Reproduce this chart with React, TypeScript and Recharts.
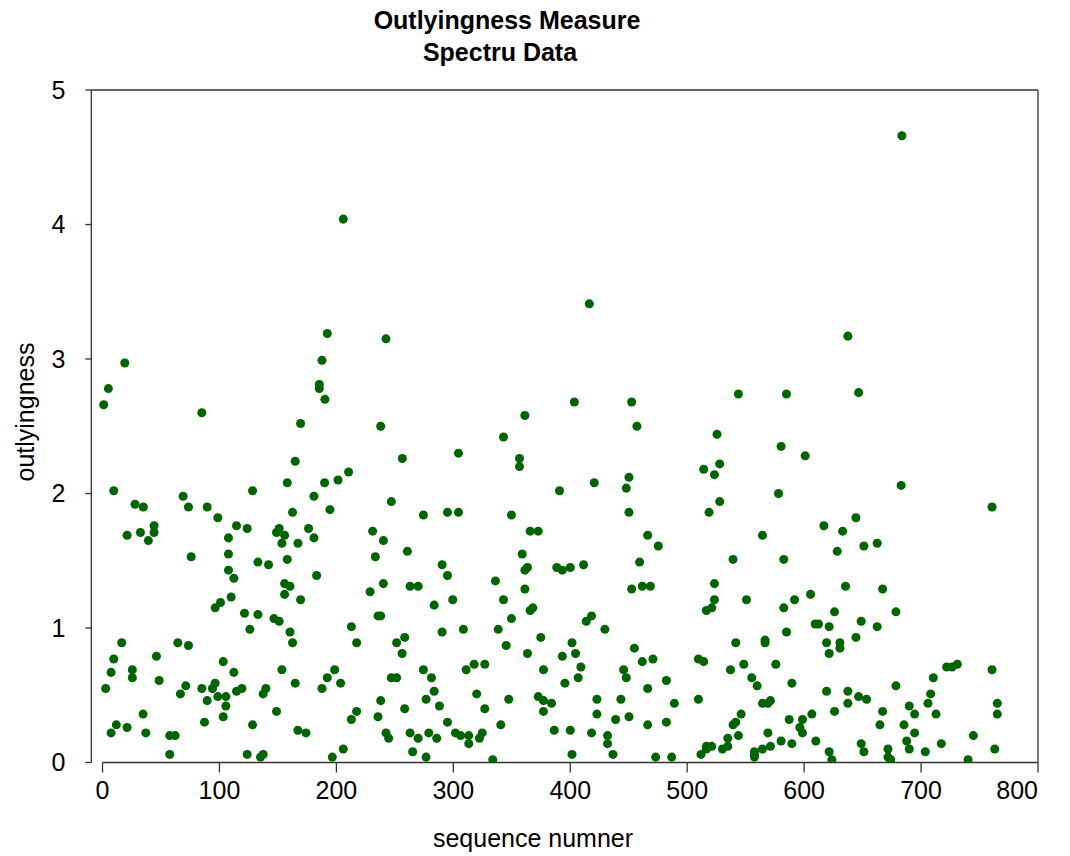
import React from 'react';
import { ScatterChart, Scatter, XAxis, YAxis, ZAxis, ReferenceLine } from 'recharts';

// sequence number / outlyingness pairs
const seqNo: number[] = [
  205.9, 683.6, 416.3,
  19, 5, 1, 84.9, 192.2, 187.7, 185.4, 185.4, 190.2, 169.4,
  242.4, 237.9, 361.2, 342.9, 403.5, 304.4,
  452.5, 457, 543.8, 584.9, 525.5, 580.3, 637.4, 646.6,
  9.6, 27.8, 34.9, 44.1, 21, 32.4, 44.1, 39.2, 68.9, 73.5, 89.5, 98.6, 75.8, 114.6, 123.7, 128.3,
  107.7, 107.7, 107.7, 112.3, 132.9, 142, 110, 100.9, 96.3, 121.4, 132.9, 164.8, 158, 189.9,
  180.8, 194.5, 162.5, 151.1, 148.8, 155.7, 176.2, 180.8, 153.4, 167.1, 158, 183.1, 155.7, 160.3,
  155.7, 169.4,
  201.4, 210.4, 256.4, 356.6, 356.6, 390.8, 247, 274.4, 295, 304.4, 349.7, 365.7, 372.6, 231,
  240.2, 233.3, 260.7, 290.4, 295, 358.9, 363.4, 361.2, 388.5, 393.2, 400, 336, 361.2, 240.2,
  228.8, 263, 269.9, 283.6, 299.5, 342.9, 365.7, 368, 235.6, 237.9,
  600.9, 420.5, 450.2, 447.9, 450.2, 514.1, 527.8, 523.3, 527.8, 518.7, 578.1, 466.2, 475.3,
  564.4, 411.4, 459.3, 539.2, 582.6, 452.5, 461.6, 468.5, 523.3, 523.3, 550.7, 605.5, 591.8,
  582.6, 516.4, 521,
  683, 760.7, 644.3, 616.9, 632.9, 651.1, 662.5, 628.3, 635.4, 667.1, 626, 678.5,
  146.6, 151.1, 126, 160.3, 162.5, 16.4, 64.4, 73.5, 9.6, 46.1, 103.2, 7.3, 25.5, 25.5, 48.4,
  112.3, 153.4, 164.8, 2.7, 71.2, 66.6, 84.9, 94, 96.3, 89.5, 98.6, 105.5, 105.5, 103.2, 114.6,
  119.2, 137.4, 139.7, 148.8, 187.7, 192.2, 198.5, 34.7, 11.8, 7.3, 21, 37, 87.2, 128.3, 57.5,
  62.1, 57.5, 123.7, 135.1, 137.4, 167.1, 174, 196.5,
  212.8, 217.3, 203.6, 251.5, 258.4, 256.2, 290.4, 308.6, 338.4, 349.7, 345.2, 374.8, 363.4,
  401.5, 393.2, 377.1, 395.4, 311, 317.8, 326.9, 274.4, 281.3, 247, 251.5, 283.6, 276.7, 288.1,
  237.9, 258.4, 235.6, 217.3, 212.8, 320, 326.9, 347.4, 372.6, 377.1, 384, 377.1, 295, 340.6,
  242.4, 244.7, 263, 269.9, 279, 285.8, 301.8, 306.3, 313.2, 313.2, 322.3, 324.7, 265.2, 276.7,
  205.9, 333.7, 386.3, 400, 401.5,
  413.7, 418.2, 429.6, 404.5, 409.1, 406.8, 454.8, 461.6, 470.7, 445.6, 447.9, 482.2, 466.2,
  422.8, 443.3, 489, 422.8, 438.8, 450.2, 466.2, 482.2, 418.2, 431.9, 431.9, 436.5, 473, 486.7,
  509.6, 514.1, 541.5, 566.6, 566.6, 584.9, 537, 548.4, 575.8, 555.2, 559.8, 589.5, 509.6, 564.4,
  569, 571.2, 546.1, 539.2, 541.5, 534.7, 543.8, 530.1, 534.7, 516.4, 516.4, 521, 511.8, 557.5,
  557.5, 557.5, 564.4, 571.2, 569, 580.3, 589.5, 587.2, 598.6, 596.3, 598.6,
  609.5, 612.3, 621.4, 648.8, 662.5, 644.3, 619.2, 630.6, 630.6, 621.4, 619.2, 637.4, 646.6,
  653.4, 637.4, 678.5, 606.6, 626, 667.1, 664.8, 689.9, 694.5, 685.4, 694.5, 687.7, 689.9, 671.7,
  671.7, 674, 648.8, 651.1, 610, 621.4, 623.7, 703.6, 717.3, 705.9, 708.2, 710.5, 712.8, 721.9,
  726.5, 731, 760.7, 765.2, 765.2, 744.7, 763, 740.2,
];

const outlyingness: number[] = [
  4.04, 4.66, 3.41,
  2.97, 2.78, 2.66, 2.60, 3.19, 2.99, 2.81, 2.78, 2.70, 2.52,
  3.15, 2.50, 2.58, 2.42, 2.68, 2.30,
  2.68, 2.50, 2.74, 2.74, 2.44, 2.35, 3.17, 2.75,
  2.02, 1.92, 1.90, 1.76, 1.69, 1.71, 1.71, 1.65, 1.98, 1.90, 1.90, 1.82, 1.53, 1.76, 1.74, 2.02,
  1.67, 1.55, 1.43, 1.37, 1.49, 1.47, 1.23, 1.19, 1.15, 1.11, 1.10, 2.24, 2.08, 2.08,
  1.98, 1.88, 1.86, 1.74, 1.71, 1.69, 1.74, 1.67, 1.63, 1.63, 1.51, 1.39, 1.33, 1.31,
  1.25, 1.21,
  2.10, 2.16, 2.26, 2.26, 2.20, 2.02, 1.94, 1.84, 1.86, 1.86, 1.84, 1.72, 1.72, 1.72,
  1.65, 1.53, 1.57, 1.47, 1.39, 1.55, 1.45, 1.43, 1.45, 1.43, 1.45, 1.35, 1.29, 1.33,
  1.27, 1.31, 1.31, 1.17, 1.21, 1.21, 1.13, 1.15, 1.09, 1.09,
  2.28, 2.08, 2.12, 2.04, 1.86, 2.18, 2.22, 2.14, 1.94, 1.86, 2.00, 1.69, 1.61,
  1.69, 1.47, 1.49, 1.51, 1.51, 1.29, 1.31, 1.31, 1.33, 1.21, 1.21, 1.25, 1.21,
  1.15, 1.13, 1.15,
  2.06, 1.90, 1.82, 1.76, 1.72, 1.61, 1.63, 1.57, 1.31, 1.29, 1.12, 1.12,
  1.07, 1.05, 0.99, 0.97, 0.89, 0.89, 0.89, 0.87, 0.77, 0.79, 0.75, 0.67, 0.69, 0.63, 0.61,
  0.67, 0.69, 0.59, 0.55, 0.57, 0.51, 0.55, 0.55, 0.59, 0.46, 0.49, 0.49, 0.42, 0.34, 0.53,
  0.55, 0.51, 0.55, 0.38, 0.55, 0.63, 0.69, 0.36, 0.28, 0.22, 0.26, 0.22, 0.30, 0.28, 0.20,
  0.20, 0.06, 0.06, 0.04, 0.06, 0.24, 0.22, 0.04,
  1.01, 0.89, 0.59, 0.89, 0.93, 0.81, 0.97, 0.99, 0.99, 1.07, 0.87, 0.93, 0.81,
  0.89, 0.79, 0.69, 0.59, 0.69, 0.73, 0.73, 0.69, 0.63, 0.63, 0.63, 0.53, 0.47, 0.42,
  0.46, 0.40, 0.34, 0.38, 0.32, 0.51, 0.40, 0.47, 0.49, 0.46, 0.44, 0.38, 0.30, 0.28,
  0.22, 0.18, 0.22, 0.18, 0.22, 0.18, 0.22, 0.20, 0.20, 0.14, 0.18, 0.22, 0.08, 0.04,
  0.10, 0.02, 0.24, 0.24, 0.06,
  1.05, 1.09, 0.99, 0.81, 0.71, 0.63, 0.85, 0.75, 0.77, 0.69, 0.63, 0.61, 0.55,
  0.47, 0.47, 0.44, 0.36, 0.32, 0.34, 0.28, 0.30, 0.22, 0.20, 0.14, 0.06, 0.04, 0.04,
  0.77, 0.75, 0.89, 0.91, 0.89, 0.97, 0.69, 0.73, 0.73, 0.63, 0.57, 0.59, 0.47, 0.44,
  0.44, 0.46, 0.36, 0.28, 0.30, 0.18, 0.20, 0.10, 0.12, 0.12, 0.10, 0.12, 0.06, 0.08,
  0.06, 0.04, 0.10, 0.12, 0.22, 0.16, 0.14, 0.32, 0.32, 0.26, 0.22,
  1.03, 1.03, 1.01, 1.05, 1.01, 0.93, 0.89, 0.89, 0.85, 0.81, 0.53, 0.53, 0.49,
  0.47, 0.44, 0.57, 0.36, 0.38, 0.38, 0.28, 0.42, 0.36, 0.28, 0.22, 0.16, 0.10, 0.10,
  0.04, 0.02, 0.14, 0.08, 0.16, 0.08, 0.02, 0.08, 0.14, 0.44, 0.51, 0.63, 0.36, 0.71,
  0.71, 0.73, 0.69, 0.44, 0.36, 0.20, 0.10, 0.02,
];

const xTicks = [0, 100, 200, 300, 400, 500, 600, 700, 800];
const yTicks = [0, 1, 2, 3, 4, 5];

const points = seqNo.map((x, i) => ({ x, y: outlyingness[i] }));

const font = '"Liberation Sans", Arial, sans-serif';
const axisColor = '#333';

// last x label sits inside the frame, right-aligned on its tick
const XTick = (props: any) => {
  const { x, y, payload } = props;
  const last = payload.value === xTicks[xTicks.length - 1];
  return (
    <text x={x} y={y} dy="0.71em" textAnchor={last ? 'end' : 'middle'} fill="#000" fontSize={25} fontFamily={font}>
      {payload.value}
    </text>
  );
};

export default function App() {
  return (
    <div style={{ position: 'relative', width: 1062, height: 848, fontFamily: font }}>
      <div style={{ position: 'absolute', left: 249, top: -3, width: 500, textAlign: 'center', fontWeight: 'bold', fontSize: 25, lineHeight: '30px' }}>
        Outlyingness Measure
      </div>
      <div style={{ position: 'absolute', left: 242, top: 29, width: 500, textAlign: 'center', fontWeight: 'bold', fontSize: 25, lineHeight: '30px' }}>
        Spectru Data
      </div>
      <div style={{ position: 'absolute', left: 275, top: 815, width: 500, textAlign: 'center', fontSize: 25, lineHeight: '30px' }}>
        sequence numner
      </div>
      <div style={{ position: 'absolute', left: -83, top: 389, width: 200, textAlign: 'center', fontSize: 25, lineHeight: '30px', transform: 'rotate(-90deg)' }}>
        outlyingness
      </div>
      <ScatterChart width={1062} height={848} margin={{ top: 82, right: 32, left: 0, bottom: 0 }}>
        <XAxis
          type="number"
          dataKey="x"
          domain={[-9.6, 800]}
          ticks={xTicks}
          allowDataOverflow
          axisLine={false}
          tickSize={10}
          tickMargin={9}
          tickLine={{ stroke: axisColor, strokeWidth: 1.3 }}
          tick={<XTick />}
          height={93.5}
        />
        <YAxis
          type="number"
          dataKey="y"
          domain={[0, 5]}
          ticks={yTicks}
          allowDataOverflow
          axisLine={{ stroke: axisColor, strokeWidth: 1.3 }}
          tickSize={6}
          tickMargin={20}
          tickLine={{ stroke: axisColor, strokeWidth: 1.3 }}
          tick={{ fill: '#000', fontSize: 25, fontFamily: font }}
          width={83.3}
        />
        <ZAxis range={[50, 50]} />
        <ReferenceLine segment={[{ x: 0, y: 0 }, { x: 800, y: 0 }]} stroke={axisColor} strokeWidth={1.3} ifOverflow="visible" />
        <ReferenceLine segment={[{ x: -9.6, y: 5 }, { x: 800, y: 5 }]} stroke={axisColor} strokeWidth={1.3} ifOverflow="visible" />
        <ReferenceLine segment={[{ x: 800, y: 0 }, { x: 800, y: 5 }]} stroke={axisColor} strokeWidth={1.3} ifOverflow="visible" />
        <Scatter data={points} fill="#006400" isAnimationActive={false} />
      </ScatterChart>
    </div>
  );
}
